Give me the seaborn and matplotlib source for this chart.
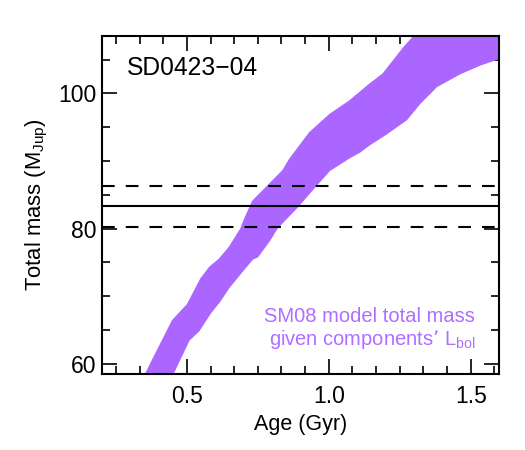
import matplotlib
matplotlib.use("Agg")
import matplotlib.pyplot as plt
from matplotlib.ticker import MultipleLocator
import seaborn as sns

# upper-mass (left) edge of the SM08 band: age in Gyr, mass in M_Jup
upper_age = [0.32, 0.352, 0.384, 0.449, 0.473, 0.502, 0.549, 0.58, 0.614, 0.65,
             0.69, 0.705, 0.732, 0.791, 0.838, 0.862, 0.932, 1.003, 1.073, 1.144,
             1.191, 1.215, 1.262, 1.30, 1.33, 1.65]
upper_mass = [55.5, 58.3, 61.0, 66.4, 67.5, 68.8, 72.6, 74.3, 75.5, 77.3,
              80.0, 81.6, 84.1, 86.6, 88.6, 90.3, 94.2, 96.9, 98.9, 101.4,
              102.9, 104.2, 106.7, 108.5, 110.0, 110.0]

# lower-mass (right) edge of the band
lower_age = [0.417, 0.449, 0.508, 0.543, 0.585, 0.614, 0.649, 0.702, 0.732, 0.749,
             0.791, 0.819, 0.89, 0.95, 1.003, 1.074, 1.109, 1.144, 1.203, 1.274,
             1.321, 1.38, 1.462, 1.533, 1.603, 1.65]
lower_mass = [55.5, 58.3, 63.5, 64.9, 67.6, 69.1, 71.3, 74.0, 75.5, 75.8,
              78.2, 80.1, 83.2, 86.1, 88.6, 90.5, 91.3, 92.4, 94.0, 96.1,
              98.5, 101.0, 102.9, 104.2, 105.2, 105.6]

# measured dynamical total mass and its 1-sigma error
mass_best = 83.3
mass_err = 3.0

sns.set_style("ticks")
plt.rcParams["font.family"] = ["Liberation Sans", "DejaVu Sans"]
plt.rcParams["mathtext.default"] = "regular"
plt.rcParams["text.color"] = "black"
plt.rcParams["axes.labelcolor"] = "black"
plt.rcParams["xtick.color"] = "black"
plt.rcParams["ytick.color"] = "black"

band_color = "#AA66FF"

fig = plt.figure(figsize=(5.25, 4.5), dpi=100)
ax = fig.add_axes([0.1937, 0.1689, 0.757, 0.7511])

poly_x = upper_age + lower_age[::-1]
poly_y = upper_mass + lower_mass[::-1]
ax.fill(poly_x, poly_y, color=band_color, lw=0, zorder=1)
sns.lineplot(x=upper_age, y=upper_mass, color=band_color, lw=0.8, ax=ax, sort=False, zorder=1)
sns.lineplot(x=lower_age, y=lower_mass, color=band_color, lw=0.8, ax=ax, sort=False, zorder=1)

ax.axhline(mass_best, color="black", lw=1.5, zorder=3)
for m in (mass_best - mass_err, mass_best + mass_err):
    ax.axhline(m, color="black", lw=1.5, dashes=(6.1, 5.3), zorder=3)

ax.set_xlim(0.2, 1.6)
ax.set_ylim(58.5, 108.5)

ax.xaxis.set_major_locator(MultipleLocator(0.5))
ax.xaxis.set_minor_locator(MultipleLocator(0.5 / 6))
ax.yaxis.set_major_locator(MultipleLocator(20))
ax.yaxis.set_minor_locator(MultipleLocator(5))
ax.xaxis.set_major_formatter(plt.FormatStrFormatter("%.1f"))

ax.tick_params(which="both", direction="in", top=True, right=True, width=1.2,
               color="black", labelsize=16.5)
ax.tick_params(axis="x", pad=8)
ax.tick_params(axis="y", pad=4)
ax.tick_params(which="major", length=11)
ax.tick_params(which="minor", length=6)
for s in ax.spines.values():
    s.set_linewidth(1.5)
    s.set_color("black")
    s.set_visible(True)

ax.set_xlabel("Age (Gyr)", fontsize=15.5, labelpad=4)
ax.set_ylabel("Total mass (M$_{Jup}$)", fontsize=15.8, labelpad=6)

ax.text(0.063, 0.905, "SD0423\u221204", transform=ax.transAxes, fontsize=17.7,
        ha="left", va="center")
ax.text(0.94, 0.134, "SM08 model total mass\ngiven components\u2019 L$_{bol}$",
        transform=ax.transAxes, fontsize=14.5, color="#B06EFF",
        ha="right", va="center", linespacing=1.1)

fig.savefig("out.png", dpi=100)
